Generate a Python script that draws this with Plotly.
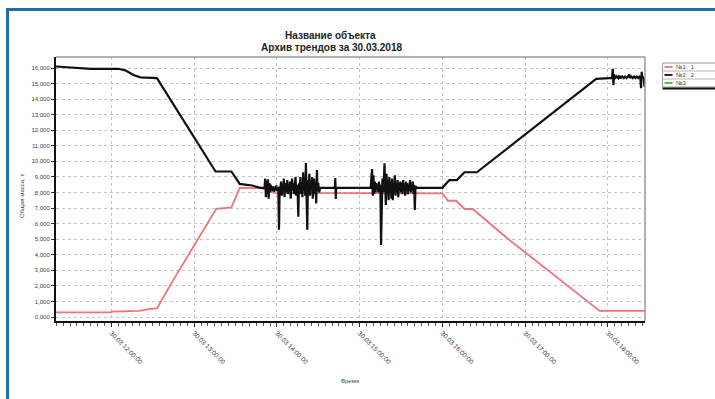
import plotly.graph_objects as go
import pandas as pd

DATE = "2018-03-30 "

# ---------------- data ----------------
# №1 (red)
s1_times = ["11:19:00", "12:00:00", "12:00:30", "12:20:00", "12:27:00", "12:33:00",
            "12:45:00", "13:00:00", "13:10:00", "13:16:00", "13:27:00", "13:33:00",
            "13:49:00", "13:58:00", "16:00:00", "16:04:00", "16:10:00", "16:16:00",
            "16:22:00", "16:47:00", "17:54:00", "18:28:00"]
s1_vals = [300, 300, 350, 400, 500, 550,
           2400, 4600, 6100, 6950, 7050, 8300,
           8280, 7980, 7950, 7470, 7470, 6940,
           6940, 5060, 390, 390]

# №2 (black) - smooth parts
s2_pre_times = ["11:19:00", "11:28:00", "11:37:00", "11:45:00", "12:05:00", "12:10:00",
                "12:16:00", "12:21:00", "12:33:00", "13:15:30", "13:27:00", "13:33:00",
                "13:42:00", "13:48:00", "13:50:30"]
s2_pre_vals = [16100, 16050, 15980, 15950, 15950, 15850,
               15550, 15400, 15350, 9350, 9350, 8550,
               8450, 8300, 8300]

# №2 noisy section 1 (30 s samples from 13:51:00)
s2_seg1_start = "13:51:00"
s2_seg1_vals = [8300, 8900, 7700, 8750, 7900, 8850, 7600, 8600, 8000, 8500,
                8150, 8350, 8100, 8400, 8050, 8300, 8200, 8450, 8100, 8300,
                8250, 5600, 8400, 8200, 8700, 7800, 8500, 8100, 8900, 7700,
                8400, 8600, 8000, 8800, 7900, 8500, 8200, 8700, 7600, 8400,
                8900, 8100, 8600, 7900, 8300, 9000, 7800, 8500, 8200, 6450,
                8600, 8000, 9000, 7900, 8600, 7700, 9300, 8100, 8800, 7800,
                9900, 8100, 5600, 8800, 8000, 9200, 7800, 8700, 8200, 9000,
                7600, 8500, 8900, 7900, 8600, 7300, 9450, 8100, 8600, 8000,
                8300]

s2_mid_times = ["14:31:30", "14:42:00", "14:42:20", "14:42:40", "14:43:00", "15:07:30"]
s2_mid_vals = [8300, 8300, 8930, 7580, 8300, 8300]

# №2 noisy section 2 (30 s samples from 15:08:00)
s2_seg2_start = "15:08:00"
s2_seg2_vals = [8300, 9000, 9500, 7800, 9100, 7900, 8700, 8000, 8600, 8200,
                8500, 8000, 8700, 8100, 8500, 4630, 8400, 8900, 8000, 8600,
                9880, 8200, 7200, 9200, 7900, 8800, 7500, 9000, 8100, 8700,
                7600, 8900, 7500, 8600, 8200, 9100, 7800, 8500, 8000, 8800,
                7700, 8600, 8300, 8700, 8000, 8600, 7900, 8800, 8100, 8500,
                7800, 8700, 8200, 8600, 7900, 8500, 8100, 8800, 8000, 8400,
                8200, 8700, 7900, 8500, 6880, 8400, 8300]

s2_post_times = ["15:41:30", "16:00:00", "16:05:00", "16:10:30", "16:16:00", "16:25:00",
                 "17:51:30", "18:01:30"]
s2_post_vals = [8300, 8300, 8800, 8800, 9300, 9300, 15300, 15350]

# №2 noisy section 3 (30 s samples from 18:02:00)
s2_seg3_start = "18:02:00"
s2_seg3_vals = [15350, 15350, 15400, 15950, 14900, 15600, 15300, 15500, 15350, 15450,
                15400, 15350, 15450, 15400, 15500, 15350, 15400, 15450, 15400, 15350,
                15400, 15450, 15400, 15350, 15400, 15450, 15400, 15600, 15350, 15400,
                15450, 15400, 15350, 15400, 15450, 15400, 15350, 15400, 15450, 15400,
                15350, 15400, 15450, 15400, 14700, 15750, 15300, 15400, 15350, 14800]

xtick_times = ["12:00:00", "13:00:00", "14:00:00", "15:00:00", "16:00:00", "17:00:00", "18:00:00"]
xtick_text = ["30.03 12:00:00", "30.03 13:00:00", "30.03 14:00:00", "30.03 15:00:00",
              "30.03 16:00:00", "30.03 17:00:00", "30.03 18:00:00"]
ytick_vals = [0, 1000, 2000, 3000, 4000, 5000, 6000, 7000, 8000,
              9000, 10000, 11000, 12000, 13000, 14000, 15000, 16000]
ytick_text = ["0,000", "1,000", "2,000", "3,000", "4,000", "5,000", "6,000", "7,000", "8,000",
              "9,000", "10,000", "11,000", "12,000", "13,000", "14,000", "15,000", "16,000"]

legend_names = ["№1:  1", "№2:  2", "№3"]
legend_colors = ["#ef7378", "#111111", "#3fbf3f"]

# ---------------- build series ----------------
def ts(lst):
    return list(pd.to_datetime([DATE + t for t in lst]))

def seg(start, vals):
    return list(pd.date_range(DATE + start, periods=len(vals), freq="30s"))

s1_x = ts(s1_times)
s2_x = (ts(s2_pre_times) + seg(s2_seg1_start, s2_seg1_vals) + ts(s2_mid_times)
        + seg(s2_seg2_start, s2_seg2_vals) + ts(s2_post_times) + seg(s2_seg3_start, s2_seg3_vals))
s2_y = (s2_pre_vals + s2_seg1_vals + s2_mid_vals + s2_seg2_vals + s2_post_vals + s2_seg3_vals)

fig = go.Figure()
fig.add_trace(go.Scatter(x=s1_x, y=s1_vals, mode="lines",
                         line=dict(color=legend_colors[0], width=1.8), name=legend_names[0]))
fig.add_trace(go.Scatter(x=s2_x, y=s2_y, mode="lines",
                         line=dict(color=legend_colors[1], width=2.2), name=legend_names[1]))

# ---------------- layout ----------------
W, H = 715, 399
L, R, T, B = 56, 645.5, 57, 321

def px(x):
    return (x - L) / (R - L)

def py(y):
    return (B - y) / (B - T)

shapes = []
annotations = []
# outer blue frame
shapes.append(dict(type="rect", xref="paper", yref="paper",
                   x0=px(7.5), x1=px(722), y0=py(406), y1=py(9.5),
                   line=dict(color="#1f6fa5", width=3), fillcolor="rgba(0,0,0,0)", layer="below"))
# gray top/right border
shapes.append(dict(type="line", xref="paper", yref="paper", x0=0, x1=1, y0=1, y1=1,
                   line=dict(color="#9a9a9a", width=1.5)))
shapes.append(dict(type="line", xref="paper", yref="paper", x0=1, x1=1, y0=0, y1=1,
                   line=dict(color="#9a9a9a", width=1.5)))

# titles
annotations.append(dict(text="<b>Название объекта</b>", xref="paper", yref="paper",
                        x=px(331), y=py(35), showarrow=False, xanchor="center", yanchor="middle",
                        font=dict(size=10, color="#222")))
annotations.append(dict(text="<b>Архив трендов за 30.03.2018</b>", xref="paper", yref="paper",
                        x=px(332), y=py(47), showarrow=False, xanchor="center", yanchor="middle",
                        font=dict(size=10, color="#222")))
annotations.append(dict(text="Общая масса, т", xref="paper", yref="paper",
                        x=px(22), y=py(196), showarrow=False, textangle=-90,
                        xanchor="center", yanchor="middle", font=dict(size=6, color="#444")))
annotations.append(dict(text="Время", xref="paper", yref="paper",
                        x=px(350), y=py(381), showarrow=False,
                        xanchor="center", yanchor="middle", font=dict(size=6, color="#444")))

# manual legend
lx0, lx1, ly0, row_h = 663, 722, 63, 8
shapes.append(dict(type="rect", xref="paper", yref="paper",
                   x0=px(lx0), x1=px(lx1), y0=py(ly0 + 3 * row_h), y1=py(ly0),
                   line=dict(color="#9a9a9a", width=1), fillcolor="white"))
shapes.append(dict(type="line", xref="paper", yref="paper",
                   x0=px(lx0), x1=px(lx1), y0=py(ly0 + 3 * row_h + 1.5), y1=py(ly0 + 3 * row_h + 1.5),
                   line=dict(color="#111", width=2)))
for i, (nm, col) in enumerate(zip(legend_names, legend_colors)):
    cy = ly0 + row_h * i + row_h / 2
    if i > 0:
        shapes.append(dict(type="line", xref="paper", yref="paper",
                           x0=px(lx0), x1=px(lx1), y0=py(ly0 + row_h * i), y1=py(ly0 + row_h * i),
                           line=dict(color="#b5b5b5", width=1)))
    shapes.append(dict(type="line", xref="paper", yref="paper",
                       x0=px(665), x1=px(673), y0=py(cy), y1=py(cy),
                       line=dict(color=col, width=1.8)))
    annotations.append(dict(text=nm, xref="paper", yref="paper", x=px(675), y=py(cy),
                            showarrow=False, xanchor="left", yanchor="middle",
                            font=dict(size=6, color="#444")))

fig.update_layout(
    width=W, height=H,
    margin=dict(l=L, r=W - R, t=T, b=H - B, pad=0),
    paper_bgcolor="white", plot_bgcolor="white",
    showlegend=False,
    font=dict(family="Liberation Sans, Arial, sans-serif", color="#444"),
    shapes=shapes, annotations=annotations,
    xaxis=dict(type="date", range=[DATE + "11:19:48", DATE + "18:26:54"],
               tickmode="array", tickvals=[DATE + t for t in xtick_times], ticktext=xtick_text,
               tickangle=45, ticks="outside", ticklen=4, tickcolor="#333",
               tickfont=dict(size=6.5, color="#444"),
               showline=True, linecolor="#111", linewidth=2,
               showgrid=True, gridcolor="#c4c4c4", griddash="dot", gridwidth=1,
               zeroline=False,
               minor=dict(tickmode="linear", tick0=DATE + "12:00:00", dtick=300000,
                          ticks="outside", ticklen=3, tickcolor="#555", showgrid=False)),
    yaxis=dict(range=[-257, 16707], tickmode="array", tickvals=ytick_vals, ticktext=ytick_text,
               ticks="outside", ticklen=3, tickcolor="#333",
               tickfont=dict(size=6, color="#444"),
               showline=True, linecolor="#111", linewidth=2,
               showgrid=True, gridcolor="#c4c4c4", griddash="dot", gridwidth=1,
               zeroline=False),
)

fig.write_html("out.html")
